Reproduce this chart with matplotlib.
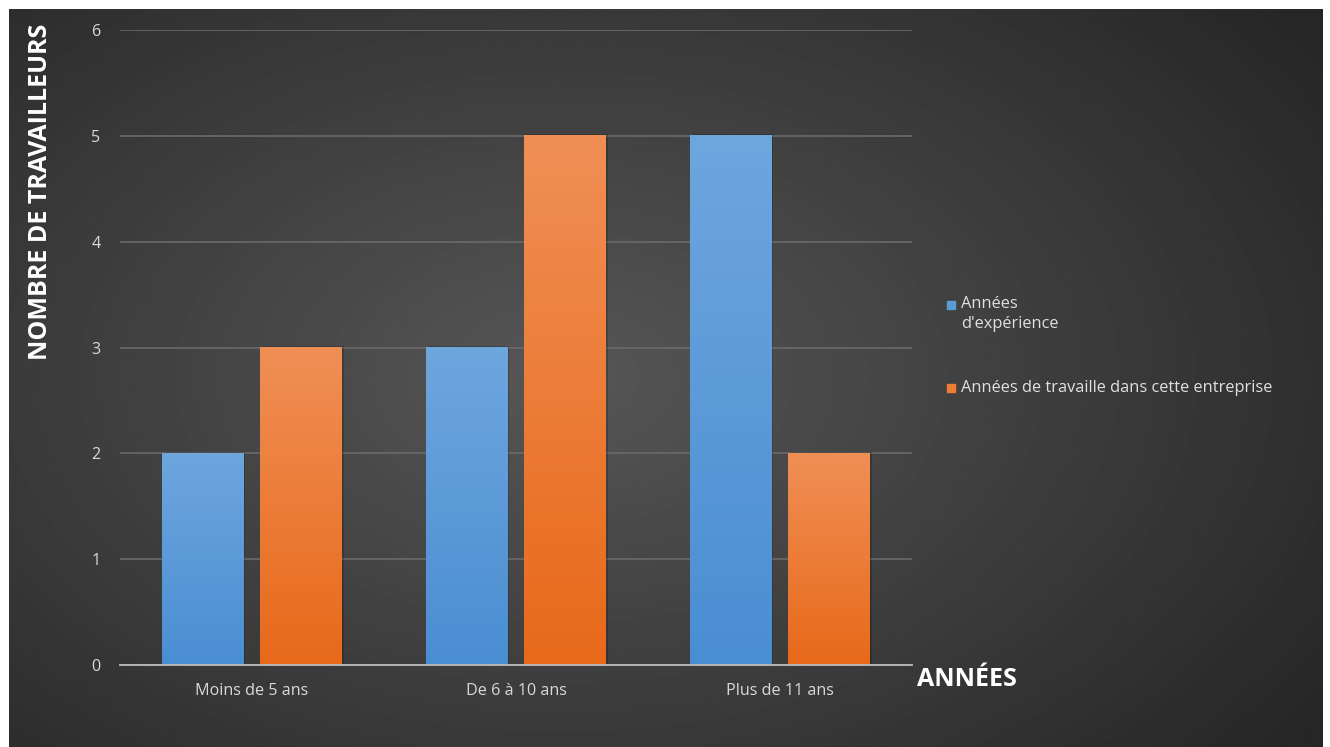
import numpy as np
import matplotlib
matplotlib.use("Agg")
import matplotlib.pyplot as plt
from matplotlib.colors import LinearSegmentedColormap

plt.rcParams['font.family'] = ['Open Sans', 'DejaVu Sans']

categories = ["Moins de 5 ans", "De 6 à 10 ans", "Plus de 11 ans"]
experience = [2, 3, 5]
entreprise = [3, 5, 2]
series_names = ["Années\nd'expérience", "Années de travaille dans cette entreprise"]
yticks = [0, 1, 2, 3, 4, 5, 6]

W, H = 1330, 747
fig = plt.figure(figsize=(W / 100, H / 100), dpi=100)
fig.patch.set_facecolor("white")

# dark radial background panel
bg = fig.add_axes([9 / W, 0, (1323 - 9) / W, (H - 9) / H], zorder=0)
yy, xx = np.mgrid[0:1:400j, 0:1:700j]
r = np.sqrt(((xx - 0.42) / 0.75) ** 2 + ((yy - 0.5) / 0.85) ** 2)
shade = np.clip(0.34 - 0.2 * r, 0.15, 0.34)
bg.imshow(shade, cmap="gray", vmin=0, vmax=1, aspect="auto",
          extent=[0, 1, 0, 1], interpolation="bilinear")
bg.set_axis_off()

# plot area
x0, x1 = 120, 912
ytop, ybot = 30, 665
ax = fig.add_axes([x0 / W, (H - ybot) / H, (x1 - x0) / W, (ybot - ytop) / H], zorder=1)
ax.patch.set_alpha(0)

blue_cm = LinearSegmentedColormap.from_list("b", ["#4a8ed2", "#6ea6de"])
orange_cm = LinearSegmentedColormap.from_list("o", ["#e8691a", "#f08f55"])

width = 0.31
offset = 0.186
grad = np.linspace(0, 1, 256).reshape(-1, 1)


def gradient_bar(xc, h, cmap):
    # faint drop shadow then vertical gradient fill
    ax.bar(xc + 0.006, h + 0.015, width, color="black", alpha=0.18, zorder=2)
    ax.imshow(grad, cmap=cmap, aspect="auto", origin="lower",
              extent=[xc - width / 2, xc + width / 2, 0, h], zorder=3)


pos = np.arange(len(categories))
for i in pos:
    gradient_bar(i - offset, experience[i], blue_cm)
    gradient_bar(i + offset, entreprise[i], orange_cm)
ax.set_xlim(-0.5, 2.5)
ax.set_ylim(0, 6)

ax.set_yticks(yticks)
ax.yaxis.grid(True, color="#6a6a6a", linewidth=1.2)
ax.set_axisbelow(True)
for s in ["top", "right", "left"]:
    ax.spines[s].set_visible(False)
ax.spines["bottom"].set_color("#bdbdbd")
ax.spines["bottom"].set_linewidth(1.3)
ax.spines["bottom"].set_zorder(4)
ax.tick_params(axis="both", length=0, colors="#d9d9d9", labelsize=11.6)
ax.tick_params(axis="y", pad=14)
ax.tick_params(axis="x", pad=13)
ax.set_xticks(pos)
ax.set_xticklabels(categories)

fig.text(41 / W, 1 - 192 / H, "NOMBRE DE TRAVAILLEURS", rotation=90,
         color="white", fontsize=18, fontweight="bold", ha="center", va="center")
fig.text(917 / W, 1 - 679 / H, "ANNÉES", color="white", fontsize=18,
         fontweight="bold", ha="left", va="center")

# legend
fig.patches.append(plt.Rectangle((947 / W, 1 - 309 / H), 8 / W, 8 / H,
                                 transform=fig.transFigure, color="#5b9bd5", figure=fig))
fig.text(961 / W, 1 - 296 / H, series_names[0], color="#e0e0e0", fontsize=11.8,
         ha="left", va="top", linespacing=1.35)
fig.patches.append(plt.Rectangle((947 / W, 1 - 392 / H), 8 / W, 8 / H,
                                 transform=fig.transFigure, color="#ed7d31", figure=fig))
fig.text(961 / W, 1 - 388 / H, series_names[1], color="#e0e0e0", fontsize=11.8,
         ha="left", va="center")

fig.savefig("out.png", dpi=100)
